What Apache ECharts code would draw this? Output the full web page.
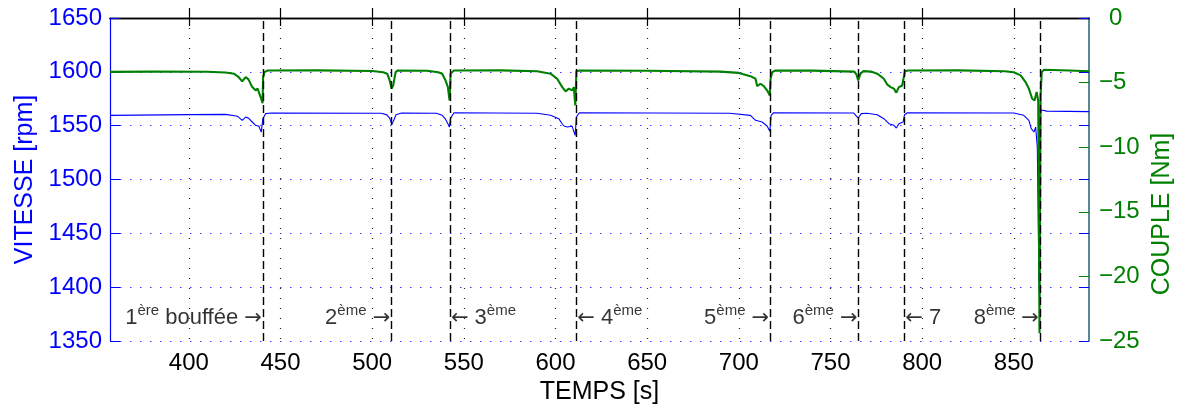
<!DOCTYPE html>
<html><head><meta charset="utf-8">
<script src="https://cdn.jsdelivr.net/npm/echarts@6/dist/echarts.min.js"></script>
<style>html,body{margin:0;padding:0;background:#fff}#c{width:1180px;height:407px}</style>
</head><body><div id="c"></div>
<script>
// ---- data ----
const xTicks = [400, 450, 500, 550, 600, 650, 700, 750, 800, 850];
const leftTicks = [1350, 1400, 1450, 1500, 1550, 1600, 1650];
const rightTicks = [-25, -20, -15, -10, -5, 0];

const tVitesse = [357,400,420,426.6,428,429.1,430,431,432.5,434.6,436.4,438.2,439.5,440.4,441.9,445,
  505,508,509.5,510.8,512,513,516,535,538.2,540,541.3,542.1,542.8,544.6,
  590,597.3,601.8,603.5,604.6,606.4,609.1,610.7,611.4,613,
  695,706.3,709.1,710,712.7,715.4,716.9,717.6,719,
  762.7,765.1,766.8,770,775.5,779.1,781.9,784.6,785.9,787.3,789.6,790.4,792,
  850,855.4,858.2,859.5,861,861.9,862.8,863.8,864.4,865,868,891];
const vitesse = [1559.6,1560.3,1560.5,1558.7,1556.5,1555,1556.5,1558,1557,1553.4,1550.3,1549.4,1544,1556.5,1561.2,1561.8,
  1561.5,1560,1557,1551.2,1556,1560.2,1561.7,1561.5,1559.6,1556,1551.8,1548.7,1557,1562,
  1561.5,1559.6,1556.5,1552,1549.7,1548.7,1549.4,1541,1558,1562,
  1561.5,1559.6,1555,1553.4,1553.4,1549.7,1544.7,1559.6,1562,
  1561.7,1557.1,1561.2,1561.5,1560.2,1556.5,1551.8,1550.3,1547.8,1551.8,1553.4,1560.2,1562,
  1561.7,1559.6,1555,1547.2,1544.1,1548.7,1530,1397,1560,1564.5,1563.5,1563];

const tCouple = [357,380,410,420,424.6,427,429.1,430,431,432.5,434.6,436.4,437.5,439.1,440.2,440.5,441.2,443,
  470,500,506,508.2,509.5,510.6,511.5,512.8,514,
  530,536,538.2,540,541.3,542.2,542.8,544.6,
  570,590,597.3,600.9,603.7,605.5,607.3,609.1,610,610.8,611.4,613,
  650,690,700,706.3,709.1,710,711.8,713.6,715.4,716.9,717.3,718.2,720,
  740,763,764.2,765.1,766.3,768,772,775.5,779.1,781,782.8,784.6,785.9,787.3,789.1,790,790.6,792.5,
  820,845,850,853.7,856.4,858.2,860,861.3,862.4,863.3,864.0,864.6,865.2,866.5,880,891];
const couple = [-4.17,-4.15,-4.16,-4.22,-4.31,-4.55,-4.9,-4.75,-4.57,-4.75,-5.35,-5.6,-5.47,-6.1,-6.6,-4.6,-4.19,-4.06,
  -4.05,-4.1,-4.2,-4.31,-4.8,-5.47,-5.2,-4.19,-4.06,
  -4.08,-4.2,-4.31,-4.83,-5.35,-6.38,-4.3,-4.06,
  -4.05,-4.12,-4.31,-4.7,-5.35,-5.68,-5.47,-5.6,-5.35,-6.76,-4.11,-4.06,
  -4.08,-4.15,-4.25,-4.5,-4.7,-5.27,-5.09,-5.27,-5.6,-5.99,-4.7,-4.19,-4.06,
  -4.07,-4.15,-4.39,-4.83,-4.31,-4.11,-4.15,-4.31,-4.7,-5.16,-5.35,-5.47,-5.78,-5.35,-5.22,-5.09,-4.11,-4.06,
  -4.05,-4.12,-4.2,-4.44,-4.96,-5.47,-6.25,-6.38,-5.73,-6.38,-24.4,-6.0,-4.19,-4.0,-4.06,-4.12];

const puffTimes = [440.4, 510.4, 542.4, 611.3, 717.1, 765.3, 790.2, 864.2];
const annLabels = ['{n|1}{s|ère}{n| bouffée }{a|→}', '{n|2}{s|ème}{n| }{a|→}', '{a|←}{n| 3}{s|ème}', '{a|←}{n| 4}{s|ème}',
  '{n|5}{s|ème}{n| }{a|→}', '{n|6}{s|ème}{n| }{a|→}', '{a|←}{n| 7}', '{n|8}{s|ème}{n| }{a|→}'];
const annSide = ['left', 'left', 'right', 'right', 'left', 'left', 'right', 'left'];
const annLevel = 1373;

// ---- chart ----
const FONT = "'Liberation Sans', Arial, Helvetica, sans-serif";
const BLUE = '#0000ff', GREEN = '#008000';

const chart = echarts.init(document.getElementById('c'), null, {renderer: 'canvas'});
chart.setOption({
  animation: false,
  backgroundColor: '#fff',
  grid: {left: 110, right: 91, top: 18, bottom: 66, containLabel: false, outerBoundsMode: 'none'},
  xAxis: [{
    type: 'value', min: 357, max: 891, position: 'bottom',
    name: 'TEMPS [s]', nameLocation: 'middle', nameGap: 38,
    nameTextStyle: {fontFamily: FONT, fontSize: 25, color: '#000'},
    axisLine: {lineStyle: {color: '#000', width: 1.3}},
    axisTick: {inside: true, length: 10, customValues: xTicks, lineStyle: {color: '#000', width: 1.2}},
    axisLabel: {customValues: xTicks, fontFamily: FONT, fontSize: 24, color: '#000', margin: 10},
    splitLine: {show: true, lineStyle: {color: '#222', type: [1, 9], width: 1.2}}
  }, {
    type: 'value', min: 357, max: 891, position: 'top',
    axisLine: {lineStyle: {color: '#000', width: 1.3}},
    axisTick: {inside: true, length: 8, customValues: xTicks, lineStyle: {color: '#000', width: 1.2}},
    axisLabel: {show: false}, splitLine: {show: false}
  }],
  yAxis: [{
    type: 'value', min: 1350, max: 1650, interval: 50, position: 'left',
    name: 'VITESSE [rpm]', nameLocation: 'middle', nameGap: 71, nameRotate: 90,
    nameTextStyle: {fontFamily: FONT, fontSize: 25, color: BLUE},
    axisLine: {show: true, lineStyle: {color: BLUE, width: 1.2}},
    axisTick: {show: true, inside: true, length: 10, lineStyle: {color: BLUE}},
    axisLabel: {fontFamily: FONT, fontSize: 24, color: BLUE, margin: 8, formatter: v => String(v)},
    splitLine: {show: true, lineStyle: {color: BLUE, opacity: 0.75, type: [1.5, 8.5], width: 1.2}}
  }, {
    type: 'value', min: -25, max: 0, interval: 5, position: 'right',
    axisLine: {show: true, lineStyle: {color: '#1f6070', width: 1.5}},
    axisTick: {show: true, inside: true, length: 10, lineStyle: {color: GREEN}},
    axisLabel: {
      fontFamily: FONT, fontSize: 24, color: GREEN, margin: 10,
      formatter: v => (v < 0 ? '\u2212' + Math.abs(v) : '{z|' + v + '}'),
      rich: {z: {fontFamily: FONT, fontSize: 24, color: GREEN, padding: [0, 0, 0, 10]}}
    },
    splitLine: {show: false}
  }, {
    type: 'value', min: 1350, max: 1650, interval: 50, position: 'right',
    axisLine: {show: false},
    axisTick: {show: true, inside: true, length: 10, lineStyle: {color: BLUE}},
    axisLabel: {show: false}, splitLine: {show: false}
  }],
  graphic: [{
    type: 'text', x: 1162, y: 214, rotation: Math.PI / 2,
    style: {text: 'COUPLE [Nm]', fill: GREEN, font: '25px ' + FONT, align: 'center', verticalAlign: 'middle'}
  }],
  series: [{
    type: 'line', name: 'VITESSE', xAxisIndex: 0, yAxisIndex: 0, showSymbol: false, symbol: 'none',
    data: tVitesse.map((t, i) => [t, vitesse[i]]),
    lineStyle: {color: BLUE, width: 1.1}, z: 3
  }, {
    type: 'line', name: 'COUPLE', xAxisIndex: 0, yAxisIndex: 1, showSymbol: false, symbol: 'none',
    data: tCouple.map((t, i) => [t, couple[i]]),
    lineStyle: {color: GREEN, width: 2.1}, z: 4
  }, {
    type: 'line', xAxisIndex: 0, yAxisIndex: 0, data: [], symbol: 'none', z: 5,
    markLine: {
      silent: true, symbol: ['none', 'none'], label: {show: false},
      lineStyle: {color: '#000', type: [8, 4], width: 1.4},
      data: puffTimes.map(t => ({xAxis: t}))
    }
  }, {
    type: 'scatter', xAxisIndex: 0, yAxisIndex: 0, symbolSize: 0, z: 6, silent: true,
    data: puffTimes.map((t, i) => ({
      value: [t, annLevel],
      label: {
        show: true, position: annSide[i], distance: 1, formatter: annLabels[i],
        rich: {
          n: {fontFamily: FONT, fontSize: 22, color: '#000', lineHeight: 26, verticalAlign: 'bottom'},
          a: {fontFamily: "'DejaVu Sans', sans-serif", fontSize: 21, color: '#000', lineHeight: 26, verticalAlign: 'bottom'},
          s: {fontFamily: FONT, fontSize: 15, color: '#000', lineHeight: 15, verticalAlign: 'top'}
        }
      }
    }))
  }]
});
</script></body></html>
